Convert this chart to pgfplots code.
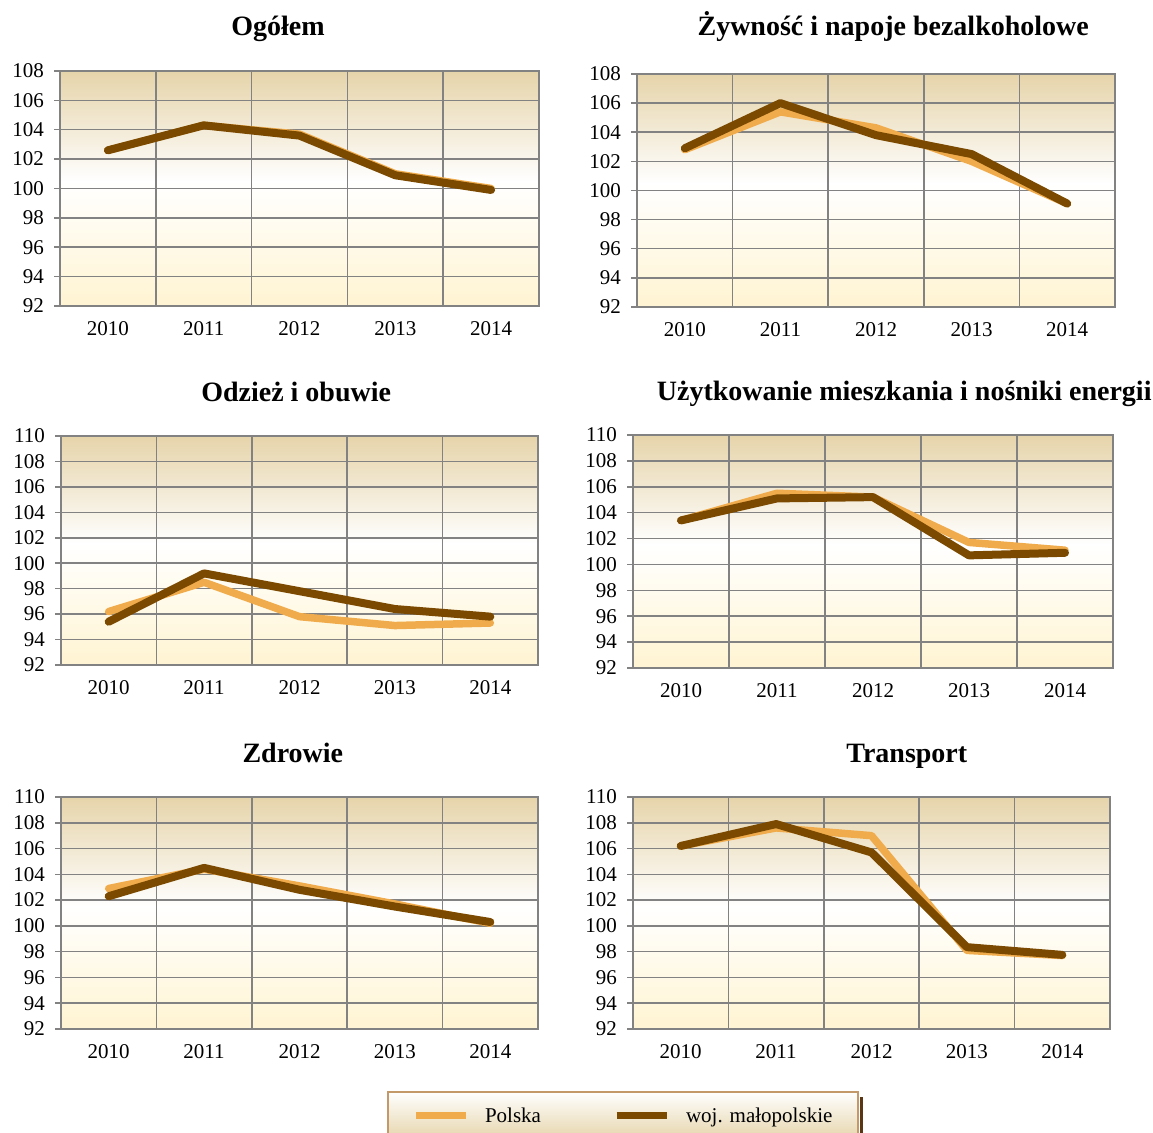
\documentclass[border=0pt]{standalone}
\usepackage{pgfplots}
\pgfplotsset{compat=1.18}
\usepackage{fontspec}
\setmainfont{Liberation Serif}

\definecolor{polska}{RGB}{240,172,76}
\definecolor{malop}{RGB}{123,74,0}
\definecolor{gridgray}{RGB}{130,130,130}
\definecolor{bgtop}{RGB}{230,212,170}
\definecolor{bgbot}{RGB}{255,244,210}
\definecolor{legtan}{RGB}{196,153,106}
\definecolor{legshadow}{RGB}{90,55,20}
% tikz fits the middle 50bp of a declared shading to the path
\pgfdeclareverticalshading{bgshade}{100bp}{color(0bp)=(bgbot); color(25bp)=(bgbot); color(51.5bp)=(white); color(75bp)=(bgtop); color(100bp)=(bgtop)}

\pgfplotsset{
  panel/.style={
    scale only axis, anchor=south west,
    xmin=-0.5, xmax=4.5, ymin=92,
    xtick={0,...,4}, xticklabels={2010,2011,2012,2013,2014},
    minor xtick={0.5,1.5,2.5,3.5},
    xminorgrids=true, ymajorgrids=true,
    xtick style={draw=none},
    ytick pos=left, tick align=outside, major tick length=6bp,
    ytick style={draw=gridgray, line width=1.5bp},
    axis line style={draw=gridgray, line width=1.5bp},
    grid style={draw=gridgray, line width=1.5bp},
    minor grid style={draw=gridgray, line width=1.5bp},
    axis background/.style={shading=bgshade},
    tick label style={font=\fontsize{21bp}{25bp}\selectfont, /pgf/number format/assume math mode=true},
    yticklabel style={anchor=east, inner sep=0pt, xshift=-10bp},
    xticklabel style={anchor=north, inner sep=0pt, yshift=-9bp},
    title style={font=\bfseries\fontsize{28bp}{32bp}\selectfont, anchor=base},
  },
  pl/.style={color=polska, line width=7.5bp, line cap=round, line join=round, mark=none},
  wm/.style={color=malop, line width=8bp, line cap=round, line join=round, mark=none},
}

\begin{document}
\begin{tikzpicture}
\path[use as bounding box] (0,0) rectangle (1153bp,1133bp);
\clip (0,0) rectangle (1153bp,1133bp);

% Ogolem
\begin{axis}[panel, at={(60bp,827bp)}, width=479bp, height=235bp,
  ymax=108, ytick={92,94,...,108},
  title={Ogółem}, title style={at={(0.455,1)}, yshift=30bp}]
  \addplot[pl] coordinates {(0,102.6) (1,104.3) (2,103.7) (3,101.0) (4,100.0)};
  \addplot[wm] coordinates {(0,102.6) (1,104.3) (2,103.6) (3,100.9) (4,99.9)};
\end{axis}

% Zywnosc
\begin{axis}[panel, at={(637bp,826bp)}, width=478bp, height=233bp,
  ymax=108, ytick={92,94,...,108},
  title={Żywność i napoje bezalkoholowe}, title style={at={(0.536,1)}, yshift=33bp}]
  \addplot[pl] coordinates {(0,102.8) (1,105.4) (2,104.3) (3,102.0) (4,99.1)};
  \addplot[wm] coordinates {(0,102.9) (1,106.0) (2,103.8) (3,102.5) (4,99.1)};
\end{axis}

% Odziez
\begin{axis}[panel, at={(61bp,468bp)}, width=477bp, height=229bp,
  ymax=110, ytick={92,94,...,110},
  title={Odzież i obuwie}, title style={at={(0.493,1)}, yshift=29bp}]
  \addplot[pl] coordinates {(0,96.2) (1,98.5) (2,95.8) (3,95.1) (4,95.3)};
  \addplot[wm] coordinates {(0,95.4) (1,99.2) (2,97.8) (3,96.4) (4,95.8)};
\end{axis}

% Uzytkowanie mieszkania
\begin{axis}[panel, at={(633bp,465bp)}, width=480bp, height=233bp,
  ymax=110, ytick={92,94,...,110},
  title={Użytkowanie mieszkania i nośniki energii}, title style={at={(0.565,1)}, yshift=29bp}]
  \addplot[pl] coordinates {(0,103.4) (1,105.5) (2,105.2) (3,101.7) (4,101.1)};
  \addplot[wm] coordinates {(0,103.4) (1,105.1) (2,105.2) (3,100.7) (4,100.9)};
\end{axis}

% Zdrowie
\begin{axis}[panel, at={(61bp,104bp)}, width=477bp, height=232bp,
  ymax=110, ytick={92,94,...,110},
  title={Zdrowie}, title style={at={(0.486,1)}, yshift=29bp}]
  \addplot[pl] coordinates {(0,102.9) (1,104.4) (2,103.1) (3,101.7) (4,100.2)};
  \addplot[wm] coordinates {(0,102.3) (1,104.5) (2,102.8) (3,101.5) (4,100.3)};
\end{axis}

% Transport
\begin{axis}[panel, at={(633bp,104bp)}, width=477bp, height=232bp,
  ymax=110, ytick={92,94,...,110},
  title={Transport}, title style={at={(0.574,1)}, yshift=29bp},
  legend style={at={(-0.5157,-0.267)}, anchor=north west, name=leg,
    draw=legtan, line width=2bp, top color=white, bottom color=bgtop,
    font=\fontsize{21bp}{25bp}\selectfont, legend columns=2,
    inner xsep=24bp, inner ysep=14bp,
    /tikz/every odd column/.append style={column sep=14bp},
    /tikz/every even column/.append style={column sep=70bp}},
  legend cell align=left,
  legend image code/.code={\draw[#1, line width=7bp, line cap=butt] (0bp,0bp) -- (50bp,0bp);}]
  \addplot[pl] coordinates {(0,106.2) (1,107.6) (2,107.0) (3,98.1) (4,97.7)};
  \addplot[wm] coordinates {(0,106.2) (1,107.9) (2,105.7) (3,98.35) (4,97.75)};
  \legend{Polska, woj. małopolskie}
\end{axis}
% dark edge on the right of the legend box
\fill[legshadow] ([xshift=1bp,yshift=-6bp]leg.north east) rectangle ([xshift=4bp]leg.south east);
\end{tikzpicture}
\end{document}
